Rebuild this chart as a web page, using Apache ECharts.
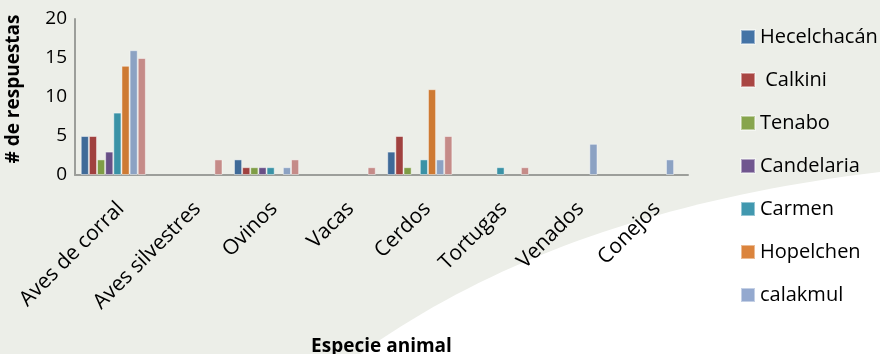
<!DOCTYPE html>
<html>
<head>
<meta charset="utf-8">
<script src="https://cdn.jsdelivr.net/npm/echarts@6/dist/echarts.min.js"></script>
<style>
  html, body { margin: 0; padding: 0; background: #ffffff; }
  #chart { width: 880px; height: 354px; }
</style>
</head>
<body>
<div id="chart"></div>
<script>
// Especies animales por municipio
const categories = ['Aves de corral', 'Aves silvestres', 'Ovinos', 'Vacas', 'Cerdos', 'Tortugas', 'Venados', 'Conejos'];
const yTicks = [0, 5, 10, 15, 20];

const hecelchacan = [5, 0, 2, 0, 3, 0, 0, 0];
const calkini     = [5, 0, 1, 0, 5, 0, 0, 0];
const tenabo      = [2, 0, 1, 0, 1, 0, 0, 0];
const candelaria  = [3, 0, 1, 0, 0, 0, 0, 0];
const carmen      = [8, 0, 1, 0, 2, 1, 0, 0];
const hopelchen   = [14, 0, 0, 0, 11, 0, 0, 0];
const calakmul    = [16, 0, 1, 0, 2, 0, 4, 2];
const otros       = [15, 2, 2, 1, 5, 1, 0, 0];

const seriesNames = ['Hecelchacán', ' Calkini', 'Tenabo', 'Candelaria', 'Carmen', 'Hopelchen', 'calakmul', 'Otros'];
const seriesData = [hecelchacan, calkini, tenabo, candelaria, carmen, hopelchen, calakmul, otros];
const barColors = ['#3F6A98', '#A0413F', '#7F9D46', '#684F86', '#3A92A6', '#CE7A33', '#8CA2C3', '#C58B88'];
const legendColors = ['#4473A6', '#A94643', '#87A54D', '#70568F', '#4198AF', '#DB843D', '#94A9CF'];

const FONT = '"Open Sans", sans-serif';

// white sweep in the lower-right corner of the backdrop (quadratic curve)
function sweepPoints() {
  const p0 = [360, 354], p1 = [560, 210], p2 = [880, 172];
  const pts = [];
  for (let k = 0; k <= 40; k++) {
    const t = k / 40, u = 1 - t;
    pts.push([u * u * p0[0] + 2 * u * t * p1[0] + t * t * p2[0],
              u * u * p0[1] + 2 * u * t * p1[1] + t * t * p2[1]]);
  }
  pts.push([880, 354]);
  return pts;
}

const chart = echarts.init(document.getElementById('chart'), null, { renderer: 'canvas' });

chart.setOption({
  backgroundColor: '#ECEEE8',
  animation: false,
  graphic: [{
    type: 'polygon',
    z: -10,
    silent: true,
    shape: { points: sweepPoints() },
    style: { fill: '#ffffff' }
  }],
  grid: { left: 75, right: 192, top: 19, bottom: 179, outerBoundsMode: 'none', containLabel: false },
  legend: {
    orient: 'vertical',
    left: 740,
    top: 27,
    padding: 0,
    itemWidth: 14,
    itemHeight: 14,
    itemGap: 23,
    icon: 'rect',
    textStyle: { fontFamily: FONT, fontSize: 20, color: '#000' },
    data: seriesNames.slice(0, 7).map((n, i) => ({ name: n, itemStyle: { color: legendColors[i] } }))
  },
  xAxis: {
    type: 'category',
    data: categories,
    name: 'Especie animal',
    nameLocation: 'middle',
    nameGap: 162,
    nameTextStyle: { fontFamily: FONT, fontSize: 19, fontWeight: 'bold', color: '#000' },
    axisLine: { lineStyle: { color: '#9C9E9A', width: 2 } },
    axisTick: { show: false },
    axisLabel: {
      rotate: 45, margin: 23, verticalAlign: 'top',
      fontFamily: FONT, fontSize: 21, color: '#000', interval: 0
    }
  },
  yAxis: {
    type: 'value',
    min: 0,
    max: 20,
    interval: 5,
    name: '# de respuestas',
    nameLocation: 'middle',
    nameGap: 52,
    nameRotate: 90,
    nameTextStyle: { fontFamily: FONT, fontSize: 19, fontWeight: 'bold', color: '#000', padding: [0, 0, 0, 16] },
    axisLine: { show: true, lineStyle: { color: '#9C9E9A', width: 2 } },
    axisTick: { show: false },
    splitLine: { show: false },
    axisLabel: {
      margin: 8, fontFamily: FONT, fontSize: 19, color: '#000',
      formatter: v => (yTicks.includes(v) ? String(v) : '')
    }
  },
  series: seriesData.map((d, i) => ({
    name: seriesNames[i],
    type: 'bar',
    // empty cells are left out rather than drawn as zero-height boxes
    data: d.map(v => (v === 0 ? null : v)),
    barGap: '0%',
    barCategoryGap: '15%',
    itemStyle: { color: barColors[i], borderColor: 'rgba(255,255,255,0.45)', borderWidth: 1 }
  }))
});
</script>
</body>
</html>
